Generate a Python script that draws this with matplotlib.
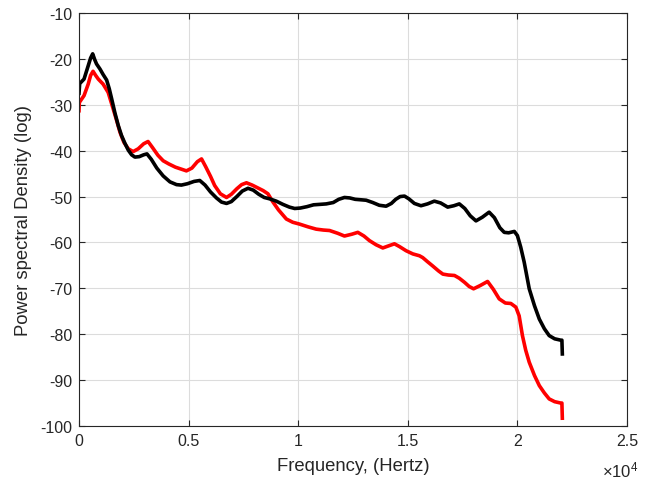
import matplotlib
matplotlib.use("Agg")
import matplotlib.pyplot as plt
from matplotlib.ticker import FixedLocator

plt.rcParams['font.family'] = ['Liberation Sans', 'DejaVu Sans']
plt.rcParams['mathtext.fontset'] = 'custom'
plt.rcParams['mathtext.rm'] = 'Liberation Sans'
plt.rcParams['mathtext.it'] = 'Liberation Sans:italic'

black_f = [0, 30, 230, 420, 530, 624, 720, 800, 956, 1100, 1260, 1380, 1490, 1640, 1790,
           1940, 2095, 2250, 2400, 2550, 2750, 2950, 3100, 3300, 3550, 3840, 4150, 4450,
           4670, 4950, 5250, 5510, 5750, 6000, 6270, 6500, 6730, 6950, 7200, 7450, 7710,
           7950, 8200, 8450, 8700, 9000, 9300, 9600, 9840, 10100, 10400, 10700, 11000,
           11280, 11600, 11850, 12110, 12350, 12600, 12850, 13100, 13400, 13700, 14010,
           14250, 14450, 14650, 14850, 15050, 15300, 15600, 15900, 16210, 16500, 16820,
           17100, 17350, 17600, 17850, 18110, 18400, 18710, 18950, 19200, 19400, 19600,
           19860, 20000, 20150, 20310, 20540, 20780, 21000, 21230, 21450, 21700, 21980,
           22030, 22050]
black_db = [-27.5, -25.4, -24.4, -21.5, -19.8, -18.9, -20.2, -21.1, -22.2, -23.4, -24.6,
            -26.5, -28.7, -31.8, -34.5, -36.7, -38.4, -39.9, -40.9, -41.4, -41.3, -40.9,
            -40.7, -41.9, -43.8, -45.5, -46.8, -47.4, -47.5, -47.2, -46.7, -46.5, -47.5,
            -49.0, -50.3, -51.2, -51.5, -51.1, -50.0, -48.8, -48.2, -48.6, -49.5, -50.2,
            -50.5, -51.0, -51.7, -52.3, -52.6, -52.5, -52.2, -51.8, -51.7, -51.6, -51.3,
            -50.6, -50.2, -50.3, -50.6, -50.7, -50.8, -51.3, -51.9, -52.1, -51.5, -50.6,
            -50.0, -49.9, -50.5, -51.5, -52.0, -51.6, -51.0, -51.4, -52.3, -52.0, -51.6,
            -52.6, -54.2, -55.3, -54.5, -53.4, -54.6, -56.8, -57.8, -57.9, -57.6, -58.5,
            -61.0, -64.3, -70.1, -73.8, -76.7, -78.8, -80.3, -81.0, -81.3, -81.3, -84.3]

red_f = [0, 15, 230, 420, 530, 640, 760, 880, 1100, 1330, 1560, 1716, 1870, 2050, 2250,
         2470, 2700, 2950, 3150, 3350, 3600, 3840, 4100, 4400, 4650, 4900, 5150, 5400,
         5590, 5780, 6000, 6190, 6450, 6730, 6950, 7200, 7420, 7640, 7900, 8150, 8400,
         8620, 8850, 9100, 9460, 9750, 10060, 10450, 10820, 11150, 11430, 11800, 12110,
         12450, 12720, 13000, 13250, 13550, 13860, 14150, 14390, 14620, 14920, 15230,
         15530, 15680, 15900, 16130, 16400, 16600, 16850, 17130, 17350, 17590, 17800,
         18000, 18300, 18640, 18900, 19170, 19450, 19700, 19930, 20080, 20230, 20380,
         20540, 20780, 21000, 21230, 21450, 21700, 21980, 22030, 22050]
red_db = [-31.3, -29.5, -28.0, -25.5, -23.6, -22.7, -23.6, -24.4, -25.5, -27.3, -30.9,
          -33.4, -36.0, -38.2, -39.6, -40.2, -39.6, -38.5, -38.0, -39.3, -41.0, -42.2,
          -42.9, -43.6, -44.0, -44.4, -43.8, -42.4, -41.8, -43.5, -45.6, -47.6, -49.4,
          -50.2, -49.5, -48.3, -47.4, -47.0, -47.5, -48.1, -48.7, -49.4, -51.2, -52.9,
          -54.9, -55.6, -56.0, -56.6, -57.1, -57.3, -57.4, -58.0, -58.6, -58.2, -57.8,
          -58.6, -59.6, -60.5, -61.2, -60.7, -60.3, -60.9, -61.8, -62.5, -62.9, -63.3,
          -64.2, -65.1, -66.2, -66.9, -67.1, -67.2, -67.8, -68.7, -69.6, -70.1, -69.4,
          -68.5, -70.2, -72.3, -73.2, -73.3, -74.1, -76.0, -80.3, -83.5, -86.1, -89.0,
          -91.2, -92.8, -94.1, -94.7, -95.0, -95.0, -98.3]

x_ticks = [0, 5000, 10000, 15000, 20000, 25000]
x_ticklabels = ['0', '0.5', '1', '1.5', '2', '2.5']
y_ticks = list(range(-100, 0, 10))

fig = plt.figure(figsize=(6.5, 4.81), dpi=100)
ax = fig.add_axes([79/650, 1-427/481, (627-79)/650, (427-14)/481])

ax.plot(red_f, red_db, color='#ff0000', lw=2.6, solid_joinstyle='round')
ax.plot(black_f, black_db, color='black', lw=2.6, solid_joinstyle='round')

ax.set_xlim(0, 25000)
ax.set_ylim(-100, -10)
ax.xaxis.set_major_locator(FixedLocator(x_ticks))
ax.set_xticklabels(x_ticklabels)
ax.yaxis.set_major_locator(FixedLocator(y_ticks))
ax.set_yticklabels([str(v) for v in y_ticks])
ax.grid(True, color='#dcdcdc', lw=0.8)
ax.set_axisbelow(True)
ax.tick_params(direction='in', top=True, right=True, length=4, width=0.8,
               labelsize=11.5, colors='#262626', pad=5)
for s in ax.spines.values():
    s.set_color('#262626')
    s.set_linewidth(0.8)
ax.set_xlabel('Frequency, (Hertz)', fontsize=13.3, color='#262626')
ax.xaxis.set_label_coords(0.5, -0.076)
ax.set_ylabel('Power spectral Density (log)', fontsize=13.3, color='#262626')
ax.yaxis.set_label_coords((32-79)/548, 0.5)
ax.text((638-79)/548, (427-470)/413, r'$\times10^{4}$', transform=ax.transAxes,
        ha='right', va='center', fontsize=12, color='#262626')

fig.savefig('out.png', dpi=100)
